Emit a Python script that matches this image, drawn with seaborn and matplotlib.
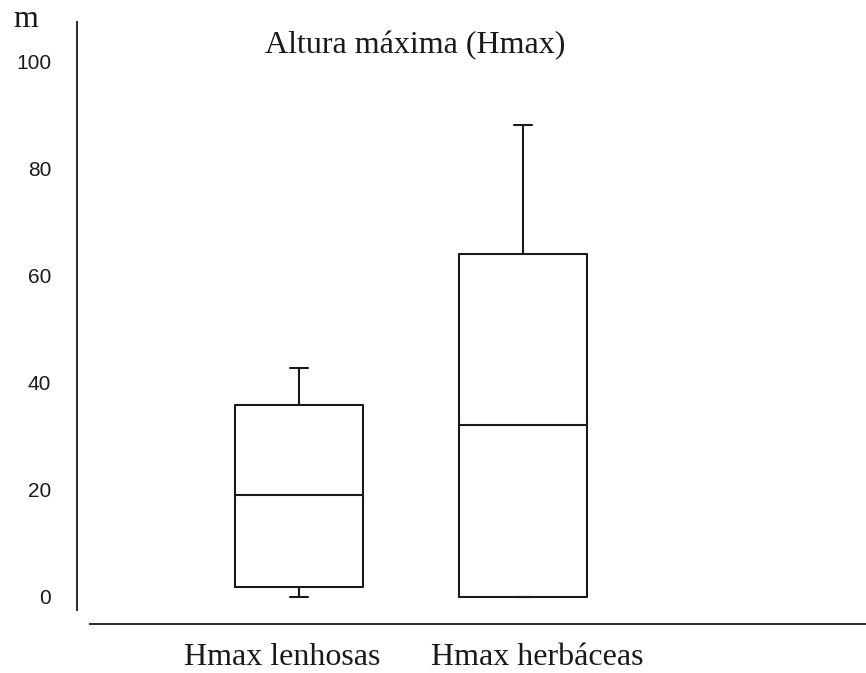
import matplotlib
matplotlib.use("Agg")
import matplotlib.pyplot as plt
import matplotlib.transforms as mtransforms
import pandas as pd
import seaborn as sns

# Groups and their five-number summaries (min, Q1, median, Q3, max), in metres
categories = ["Hmax lenhosas", "Hmax herbáceas"]
lenhosas = [0.0, 1.7, 19.0, 35.8, 42.8]
herbaceas = [0.0, 0.0, 32.1, 64.1, 88.1]
y_ticks = [0, 20, 40, 60, 80, 100]

df = pd.DataFrame({
    "grupo": [categories[0]] * len(lenhosas) + [categories[1]] * len(herbaceas),
    "altura": lenhosas + herbaceas,
})

sns.set_theme(style="white")
plt.rcParams["font.family"] = ["Liberation Serif", "DejaVu Serif"]

W, H = 866, 673
fig = plt.figure(figsize=(W / 100, H / 100), dpi=100)
ax = fig.add_axes([77 / W, 1 - 624 / H, (866 - 77) / W, (624 - 22) / H])

sns.boxplot(
    data=df, x="grupo", y="altura", order=categories,
    whis=(0, 100), width=0.571, fill=False, color="#1a1a1a",
    linewidth=1.5, capwidths=0.08, showfliers=False, ax=ax,
)

ax.set_ylim(-5.14, 107.4)
ax.set_xlim(-0.991, 2.531)

# Detached axis lines
for side in ("top", "right"):
    ax.spines[side].set_visible(False)
ax.spines["left"].set_bounds(-2.52, 107.4)
ax.spines["bottom"].set_bounds(-0.933, 2.531)
for side in ("left", "bottom"):
    ax.spines[side].set_color("#333333")
    ax.spines[side].set_linewidth(1.5)

ax.set_yticks(y_ticks)
ax.set_yticklabels([str(t) for t in y_ticks], fontfamily="Liberation Sans")
ax.tick_params(axis="y", length=0, pad=18.7, labelsize=15, labelcolor="#1a1a1a")

ax.set_xticks(range(len(categories)))
ax.set_xticklabels(categories)
ax.tick_params(axis="x", length=0, pad=13.7, labelsize=23, labelcolor="#1a1a1a")
for lab, dx in zip(ax.get_xticklabels(), (-17, 14)):
    lab.set_transform(lab.get_transform() + mtransforms.ScaledTranslation(dx / 100, 0, fig.dpi_scale_trans))

ax.set_xlabel("")
ax.set_ylabel("")

fig.text(415 / W, 1 - 53 / H, "Altura máxima (Hmax)", ha="center", va="baseline",
         fontsize=23, color="#1a1a1a")
fig.text(13 / W, 1 - 27 / H, "m", ha="left", va="baseline", fontsize=23, color="#1a1a1a")

fig.savefig("out.png", dpi=100, facecolor="white")
